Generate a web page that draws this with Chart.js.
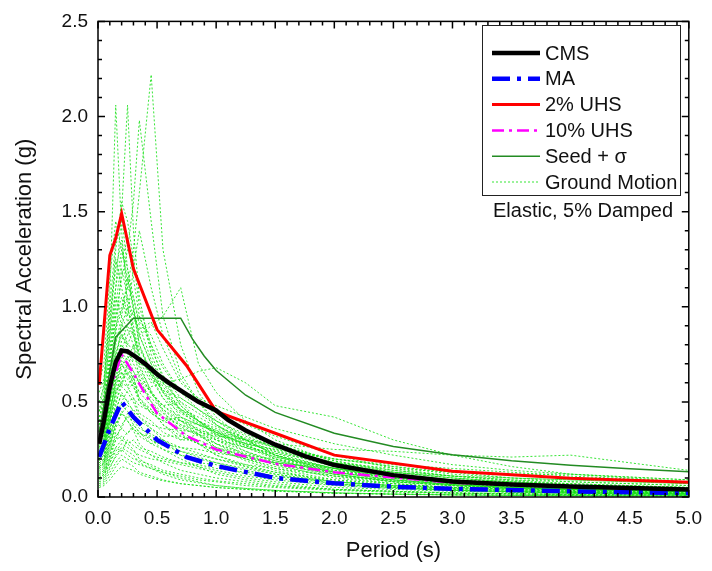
<!DOCTYPE html>
<html>
<head>
<meta charset="utf-8">
<script src="https://cdn.jsdelivr.net/npm/chart.js@4.4.0/dist/chart.umd.min.js"></script>
<style>
html, body { margin: 0; padding: 0; background: #fff; }
</style>
</head>
<body>
<canvas id="canvas" width="712" height="571"></canvas>
<script>
// CMS
var cmsT = [0.01, 0.05, 0.1, 0.15, 0.2, 0.25, 0.3, 0.4, 0.5, 0.6, 0.75, 0.85, 1.0, 1.1, 1.25, 1.5, 1.75, 2.0, 2.5, 3.0, 3.5, 4.0, 4.5, 5.0];
var cmsSa = [0.28, 0.40, 0.58, 0.71, 0.77, 0.765, 0.745, 0.70, 0.645, 0.60, 0.54, 0.50, 0.455, 0.405, 0.35, 0.275, 0.215, 0.168, 0.115, 0.082, 0.066, 0.055, 0.047, 0.04];

// MA
var maT = [0.01, 0.1, 0.2, 0.3, 0.5, 0.75, 1.0, 1.5, 2.0, 2.5, 3.0, 4.0, 5.0];
var maSa = [0.21, 0.36, 0.50, 0.42, 0.30, 0.21, 0.163, 0.10, 0.072, 0.054, 0.043, 0.03, 0.021];

// 2% UHS
var uhs2T = [0.01, 0.1, 0.15, 0.2, 0.3, 0.5, 0.75, 1.0, 1.5, 2.0, 3.0, 4.0, 5.0];
var uhs2Sa = [0.59, 1.27, 1.36, 1.49, 1.20, 0.88, 0.69, 0.45, 0.335, 0.22, 0.135, 0.098, 0.078];

// 10% UHS
var uhs10T = [0.01, 0.1, 0.2, 0.3, 0.4, 0.5, 0.75, 1.0, 1.5, 2.0, 3.0, 4.0, 5.0];
var uhs10Sa = [0.28, 0.56, 0.75, 0.65, 0.54, 0.44, 0.32, 0.25, 0.175, 0.13, 0.075, 0.052, 0.038];

// Seed + sigma
var seedT = [0.01, 0.15, 0.3, 0.7, 0.8, 0.9, 1.0, 1.25, 1.5, 2.0, 2.5, 3.0, 3.5, 4.0, 4.5, 5.0];
var seedSa = [0.34, 0.84, 0.94, 0.94, 0.83, 0.74, 0.665, 0.535, 0.445, 0.335, 0.265, 0.222, 0.19, 0.167, 0.148, 0.133];

// ground motions, one row per record
var gmT = [0.01, 0.05, 0.1, 0.15, 0.2, 0.25, 0.3, 0.35, 0.45, 0.55, 0.7, 0.85, 1.0, 1.25, 1.5, 2.0, 2.5, 3.0, 3.5, 4.0, 5.0];
var gmSa = [
  [0.45, 0.60, 0.95, 1.20, 1.35, 1.10, 1.30, 1.60, 2.22, 1.30, 0.80, 0.55, 0.42, 0.30, 0.22, 0.12, 0.08, 0.06, 0.045, 0.035, 0.025],
  [0.40, 0.55, 1.05, 2.06, 1.40, 1.00, 0.85, 0.70, 0.55, 0.45, 0.35, 0.28, 0.22, 0.16, 0.12, 0.07, 0.05, 0.035, 0.025, 0.02, 0.015],
  [0.42, 0.50, 0.85, 1.10, 1.50, 2.06, 1.40, 1.05, 0.75, 0.60, 0.45, 0.38, 0.30, 0.22, 0.17, 0.10, 0.07, 0.05, 0.04, 0.03, 0.02],
  [0.38, 0.45, 0.70, 0.95, 1.15, 1.30, 1.55, 1.98, 1.45, 0.95, 0.65, 0.50, 0.38, 0.28, 0.20, 0.12, 0.08, 0.06, 0.045, 0.035, 0.025],
  [0.30, 0.35, 0.55, 0.75, 0.85, 0.80, 0.78, 0.85, 0.90, 0.95, 1.10, 0.70, 0.55, 0.40, 0.30, 0.18, 0.12, 0.09, 0.07, 0.05, 0.04],
  [0.25, 0.28, 0.45, 0.60, 0.70, 0.65, 0.60, 0.55, 0.58, 0.60, 0.62, 0.66, 0.68, 0.60, 0.48, 0.42, 0.30, 0.22, 0.16, 0.12, 0.08],
  [0.22, 0.25, 0.40, 0.55, 0.60, 0.58, 0.52, 0.48, 0.45, 0.42, 0.40, 0.38, 0.35, 0.30, 0.28, 0.25, 0.24, 0.22, 0.21, 0.22, 0.14],
  [0.10, 0.12, 0.20, 0.30, 0.32, 0.28, 0.25, 0.20, 0.16, 0.13, 0.10, 0.08, 0.06, 0.045, 0.035, 0.02, 0.015, 0.012, 0.01, 0.008, 0.006],
  [0.15, 0.18, 0.30, 0.45, 0.55, 0.50, 0.45, 0.38, 0.30, 0.25, 0.20, 0.16, 0.12, 0.09, 0.07, 0.04, 0.03, 0.02, 0.016, 0.012, 0.009],
  [0.50, 0.58, 0.90, 1.30, 1.55, 1.45, 1.25, 1.00, 0.80, 0.62, 0.48, 0.40, 0.32, 0.24, 0.18, 0.11, 0.07, 0.05, 0.04, 0.03, 0.02],
  [0.35, 0.40, 0.65, 0.90, 1.00, 1.10, 1.05, 0.90, 0.72, 0.60, 0.50, 0.44, 0.38, 0.30, 0.24, 0.16, 0.11, 0.08, 0.06, 0.05, 0.035],
  [0.20, 0.22, 0.35, 0.48, 0.62, 0.70, 0.75, 0.72, 0.65, 0.55, 0.45, 0.40, 0.34, 0.27, 0.22, 0.15, 0.10, 0.07, 0.055, 0.04, 0.03],
  [0.28, 0.33, 0.55, 0.80, 0.95, 0.88, 0.80, 0.62, 0.50, 0.42, 0.33, 0.28, 0.22, 0.17, 0.13, 0.08, 0.055, 0.04, 0.03, 0.024, 0.018],
  [0.18, 0.20, 0.32, 0.42, 0.50, 0.56, 0.60, 0.62, 0.55, 0.48, 0.40, 0.35, 0.30, 0.24, 0.19, 0.13, 0.09, 0.065, 0.05, 0.04, 0.03],
  [0.60, 0.70, 1.15, 1.45, 1.30, 1.15, 1.00, 0.85, 0.70, 0.55, 0.42, 0.35, 0.28, 0.20, 0.15, 0.09, 0.06, 0.045, 0.035, 0.028, 0.02],
  [0.12, 0.14, 0.22, 0.30, 0.38, 0.42, 0.40, 0.36, 0.33, 0.30, 0.26, 0.23, 0.20, 0.16, 0.13, 0.09, 0.07, 0.05, 0.04, 0.032, 0.025],
  [0.32, 0.36, 0.60, 0.85, 1.20, 1.05, 0.90, 0.75, 0.62, 0.52, 0.44, 0.39, 0.33, 0.27, 0.22, 0.15, 0.11, 0.08, 0.06, 0.05, 0.04],
  [0.08, 0.09, 0.15, 0.22, 0.26, 0.24, 0.22, 0.18, 0.15, 0.12, 0.09, 0.075, 0.06, 0.045, 0.035, 0.022, 0.015, 0.011, 0.008, 0.007, 0.005],
  [0.26, 0.30, 0.48, 0.70, 0.78, 0.85, 0.92, 0.95, 0.80, 0.68, 0.55, 0.50, 0.45, 0.38, 0.32, 0.22, 0.15, 0.11, 0.085, 0.065, 0.05],
  [0.45, 0.52, 0.85, 1.25, 1.10, 0.95, 1.20, 1.40, 1.10, 0.85, 0.62, 0.50, 0.40, 0.30, 0.22, 0.13, 0.09, 0.065, 0.05, 0.04, 0.03],
  [0.16, 0.18, 0.28, 0.36, 0.44, 0.48, 0.46, 0.42, 0.38, 0.36, 0.35, 0.34, 0.32, 0.30, 0.27, 0.20, 0.16, 0.13, 0.10, 0.08, 0.06],
  [0.22, 0.26, 0.42, 0.62, 0.72, 0.68, 0.62, 0.55, 0.48, 0.42, 0.38, 0.35, 0.33, 0.28, 0.25, 0.20, 0.17, 0.15, 0.13, 0.11, 0.08],
  [0.38, 0.44, 0.72, 1.00, 1.25, 1.35, 1.15, 0.95, 0.78, 0.64, 0.52, 0.46, 0.40, 0.32, 0.26, 0.17, 0.12, 0.09, 0.07, 0.055, 0.04],
  [0.14, 0.16, 0.25, 0.38, 0.45, 0.40, 0.35, 0.28, 0.22, 0.18, 0.14, 0.12, 0.10, 0.08, 0.06, 0.04, 0.03, 0.022, 0.017, 0.013, 0.01],
  [0.30, 0.34, 0.52, 0.70, 0.82, 0.90, 0.85, 0.78, 0.66, 0.56, 0.46, 0.42, 0.37, 0.31, 0.26, 0.18, 0.13, 0.10, 0.08, 0.06, 0.045],
  [0.20, 0.24, 0.38, 0.55, 0.65, 0.62, 0.58, 0.50, 0.44, 0.40, 0.36, 0.33, 0.30, 0.26, 0.23, 0.18, 0.15, 0.13, 0.12, 0.12, 0.09],
  [0.55, 0.62, 1.00, 1.35, 1.48, 1.20, 1.00, 0.80, 0.64, 0.52, 0.40, 0.33, 0.26, 0.19, 0.14, 0.08, 0.055, 0.04, 0.03, 0.024, 0.018],
  [0.10, 0.11, 0.18, 0.26, 0.30, 0.34, 0.36, 0.32, 0.28, 0.25, 0.22, 0.20, 0.18, 0.15, 0.12, 0.08, 0.06, 0.045, 0.035, 0.028, 0.02],
  [0.34, 0.38, 0.62, 0.88, 0.98, 1.05, 0.95, 0.88, 0.92, 0.78, 0.60, 0.52, 0.44, 0.35, 0.28, 0.19, 0.13, 0.10, 0.075, 0.06, 0.045],
  [0.24, 0.27, 0.44, 0.64, 0.74, 0.70, 0.66, 0.60, 0.52, 0.46, 0.40, 0.36, 0.31, 0.26, 0.21, 0.15, 0.11, 0.085, 0.065, 0.05, 0.04],
  [0.42, 0.48, 0.78, 1.10, 1.30, 1.20, 1.05, 0.92, 0.85, 0.70, 0.55, 0.46, 0.38, 0.29, 0.23, 0.15, 0.10, 0.075, 0.06, 0.045, 0.035],
  [0.06, 0.07, 0.11, 0.16, 0.20, 0.18, 0.16, 0.13, 0.11, 0.09, 0.07, 0.06, 0.05, 0.04, 0.03, 0.02, 0.014, 0.01, 0.008, 0.006, 0.005],
  [0.28, 0.32, 0.50, 0.72, 0.80, 0.75, 0.72, 0.70, 0.68, 0.62, 0.56, 0.52, 0.48, 0.42, 0.36, 0.28, 0.22, 0.17, 0.14, 0.12, 0.09],
  [0.18, 0.20, 0.34, 0.50, 0.58, 0.55, 0.50, 0.42, 0.36, 0.30, 0.24, 0.21, 0.18, 0.14, 0.11, 0.07, 0.05, 0.035, 0.027, 0.02, 0.015],
  [0.20, 0.24, 0.40, 0.52, 0.66, 0.58, 0.64, 0.50, 0.46, 0.38, 0.30, 0.33, 0.26, 0.21, 0.17, 0.12, 0.08, 0.06, 0.05, 0.04, 0.03],
  [0.15, 0.17, 0.26, 0.40, 0.36, 0.44, 0.38, 0.34, 0.28, 0.30, 0.22, 0.18, 0.17, 0.12, 0.10, 0.065, 0.05, 0.035, 0.03, 0.025, 0.018],
  [0.32, 0.38, 0.58, 0.70, 0.92, 0.80, 0.88, 0.72, 0.60, 0.64, 0.48, 0.40, 0.36, 0.30, 0.22, 0.14, 0.10, 0.075, 0.06, 0.05, 0.035],
  [0.11, 0.13, 0.20, 0.26, 0.24, 0.30, 0.27, 0.25, 0.22, 0.20, 0.18, 0.17, 0.15, 0.13, 0.11, 0.08, 0.06, 0.05, 0.045, 0.04, 0.03],
  [0.26, 0.30, 0.50, 0.64, 0.58, 0.70, 0.62, 0.66, 0.54, 0.48, 0.50, 0.40, 0.34, 0.28, 0.25, 0.17, 0.13, 0.10, 0.08, 0.06, 0.05],
  [0.09, 0.10, 0.16, 0.21, 0.25, 0.22, 0.20, 0.19, 0.17, 0.14, 0.12, 0.10, 0.085, 0.07, 0.055, 0.04, 0.03, 0.022, 0.018, 0.015, 0.011],
  [0.36, 0.42, 0.70, 0.95, 1.05, 0.92, 0.98, 0.80, 0.66, 0.55, 0.46, 0.40, 0.35, 0.27, 0.21, 0.14, 0.10, 0.07, 0.055, 0.045, 0.03],
  [0.19, 0.22, 0.36, 0.46, 0.54, 0.50, 0.52, 0.44, 0.40, 0.34, 0.30, 0.30, 0.26, 0.22, 0.20, 0.15, 0.12, 0.09, 0.07, 0.06, 0.045],
  [0.24, 0.28, 0.46, 0.58, 0.68, 0.74, 0.66, 0.60, 0.50, 0.44, 0.37, 0.32, 0.28, 0.22, 0.18, 0.12, 0.085, 0.065, 0.05, 0.04, 0.03],
  [0.13, 0.15, 0.24, 0.32, 0.36, 0.33, 0.38, 0.34, 0.30, 0.27, 0.24, 0.22, 0.20, 0.17, 0.15, 0.11, 0.09, 0.07, 0.06, 0.05, 0.04],
  [0.29, 0.34, 0.55, 0.76, 0.86, 0.78, 0.70, 0.64, 0.55, 0.48, 0.42, 0.38, 0.34, 0.28, 0.24, 0.18, 0.14, 0.11, 0.09, 0.08, 0.06],
  [0.07, 0.08, 0.13, 0.18, 0.22, 0.20, 0.18, 0.17, 0.15, 0.13, 0.11, 0.09, 0.08, 0.06, 0.05, 0.035, 0.025, 0.02, 0.016, 0.013, 0.01],
  [0.40, 0.46, 0.75, 1.05, 0.95, 1.15, 0.98, 0.85, 0.70, 0.58, 0.46, 0.40, 0.33, 0.26, 0.20, 0.13, 0.09, 0.065, 0.05, 0.04, 0.03],
  [0.17, 0.19, 0.30, 0.42, 0.48, 0.45, 0.42, 0.40, 0.36, 0.32, 0.32, 0.28, 0.24, 0.20, 0.18, 0.14, 0.11, 0.09, 0.08, 0.07, 0.05],
  [0.21, 0.25, 0.40, 0.56, 0.60, 0.66, 0.60, 0.52, 0.46, 0.38, 0.32, 0.28, 0.25, 0.20, 0.16, 0.11, 0.08, 0.06, 0.045, 0.035, 0.025],
  [0.12, 0.14, 0.22, 0.34, 0.30, 0.28, 0.30, 0.26, 0.24, 0.21, 0.18, 0.16, 0.14, 0.11, 0.09, 0.06, 0.045, 0.035, 0.028, 0.022, 0.016],
  [0.33, 0.38, 0.60, 0.82, 0.90, 1.00, 0.86, 0.74, 0.64, 0.56, 0.52, 0.46, 0.40, 0.33, 0.27, 0.19, 0.14, 0.11, 0.09, 0.07, 0.05],
  [0.05, 0.06, 0.09, 0.13, 0.16, 0.15, 0.14, 0.12, 0.10, 0.085, 0.07, 0.06, 0.05, 0.04, 0.032, 0.022, 0.016, 0.012, 0.01, 0.008, 0.006],
  [0.27, 0.31, 0.50, 0.66, 0.76, 0.72, 0.80, 0.68, 0.56, 0.46, 0.38, 0.33, 0.28, 0.23, 0.19, 0.13, 0.10, 0.08, 0.065, 0.055, 0.04],
  [0.16, 0.18, 0.28, 0.38, 0.44, 0.40, 0.36, 0.33, 0.32, 0.28, 0.26, 0.25, 0.23, 0.21, 0.18, 0.15, 0.13, 0.11, 0.10, 0.09, 0.07],
  [0.23, 0.27, 0.44, 0.60, 0.70, 0.64, 0.58, 0.52, 0.44, 0.40, 0.42, 0.38, 0.34, 0.30, 0.26, 0.20, 0.16, 0.12, 0.10, 0.09, 0.07],
  [0.10, 0.12, 0.18, 0.24, 0.28, 0.26, 0.24, 0.22, 0.20, 0.19, 0.17, 0.15, 0.13, 0.10, 0.08, 0.05, 0.04, 0.03, 0.025, 0.02, 0.015]
];

var xTicks = [0, 0.5, 1, 1.5, 2, 2.5, 3, 3.5, 4, 4.5, 5];
var FONT = "'Liberation Sans', Arial, sans-serif";

function pts(t, sa) {
  return t.map(function (v, i) { return { x: v, y: sa[i] }; });
}

var datasets = [
  { label: 'CMS', data: pts(cmsT, cmsSa), borderColor: '#000000', borderWidth: 4.5 },
  { label: 'MA', data: pts(maT, maSa), borderColor: '#0000ff', borderWidth: 4.5, borderDash: [18, 7, 4, 7] },
  { label: '2% UHS', data: pts(uhs2T, uhs2Sa), borderColor: '#ff0000', borderWidth: 3 },
  { label: '10% UHS', data: pts(uhs10T, uhs10Sa), borderColor: '#ff00ff', borderWidth: 2.5, borderDash: [12, 5, 3, 5] },
  { label: 'Seed + \u03c3', data: pts(seedT, seedSa), borderColor: '#238b23', borderWidth: 1.5 }
];
gmSa.forEach(function (rec) {
  datasets.push({ label: 'Ground Motion', data: pts(gmT, rec), borderColor: 'rgba(20,225,20,0.85)', borderWidth: 1, borderDash: [2, 2] });
});

// box round the plot, inward major/minor ticks on all four sides
var frameTicks = {
  id: 'frameTicks',
  afterDraw: function (chart) {
    var ctx = chart.ctx, a = chart.chartArea;
    var xs = chart.scales.x, ys = chart.scales.y;
    ctx.save();
    ctx.strokeStyle = '#000';
    ctx.lineWidth = 1.5;
    ctx.strokeRect(a.left, a.top, a.right - a.left, a.bottom - a.top);
    ctx.beginPath();
    for (var i = 0; i <= 50; i++) {
      var len = i % 5 === 0 ? 7 : 4;
      var px = xs.getPixelForValue(i / 10);
      ctx.moveTo(px, a.bottom); ctx.lineTo(px, a.bottom - len);
      ctx.moveTo(px, a.top); ctx.lineTo(px, a.top + len);
    }
    for (var j = 0; j <= 25; j++) {
      var l2 = j % 5 === 0 ? 7 : 4;
      var py = ys.getPixelForValue(j / 10);
      ctx.moveTo(a.left, py); ctx.lineTo(a.left + l2, py);
      ctx.moveTo(a.right, py); ctx.lineTo(a.right - l2, py);
    }
    ctx.stroke();
    ctx.restore();
  }
};

var legendBox = {
  id: 'legendBox',
  afterDraw: function (chart) {
    var ctx = chart.ctx;
    var seen = {}, items = [];
    chart.data.datasets.forEach(function (ds) {
      if (!seen[ds.label]) { seen[ds.label] = true; items.push(ds); }
    });
    ctx.save();
    ctx.fillStyle = '#fff';
    ctx.fillRect(482, 25, 198, 170);
    ctx.strokeStyle = '#222';
    ctx.lineWidth = 1;
    ctx.strokeRect(482.5, 25.5, 198, 170);
    ctx.font = '20px ' + FONT;
    ctx.textBaseline = 'middle';
    items.forEach(function (ds, i) {
      var y = 53 + i * 25.8;
      ctx.beginPath();
      ctx.strokeStyle = ds.borderColor;
      ctx.lineWidth = ds.borderWidth;
      ctx.setLineDash(ds.borderDash || []);
      ctx.moveTo(492, y); ctx.lineTo(540, y);
      ctx.stroke();
      ctx.setLineDash([]);
      ctx.fillStyle = '#111';
      ctx.fillText(ds.label, 545, y + 1);
    });
    ctx.fillText('Elastic, 5% Damped', 493, 211);
    ctx.restore();
  }
};

var ctx = document.getElementById('canvas').getContext('2d');
var chart = new Chart(ctx, {
  type: 'line',
  data: { datasets: datasets },
  options: {
    responsive: false,
    animation: false,
    devicePixelRatio: 1,
    layout: { padding: { top: 18, right: 15, left: 0, bottom: 0 } },
    elements: { point: { radius: 0 }, line: { tension: 0, borderCapStyle: 'butt' } },
    plugins: { legend: { display: false }, tooltip: { enabled: false } },
    scales: {
      x: {
        type: 'linear', min: 0, max: 5,
        grid: { display: false, drawTicks: false },
        border: { display: false },
        afterBuildTicks: function (s) { s.ticks = xTicks.map(function (v) { return { value: v }; }); },
        ticks: { padding: 10, color: '#111', font: { family: FONT, size: 19 }, maxRotation: 0, autoSkip: false,
          callback: function (v) { return Number(v).toFixed(1); } },
        title: { display: true, text: 'Period (s)', color: '#111', font: { family: FONT, size: 22 }, padding: { top: 0, bottom: 7 } },
        afterFit: function (s) { s.height = 74; }
      },
      y: {
        min: 0, max: 2.5,
        grid: { display: false, drawTicks: false },
        border: { display: false },
        ticks: { stepSize: 0.5, padding: 10, color: '#111', font: { family: FONT, size: 19 },
          callback: function (v) { return Number(v).toFixed(1); } },
        title: { display: true, text: 'Spectral Acceleration (g)', color: '#111', font: { family: FONT, size: 22 }, padding: { top: 12, bottom: 0 } },
        afterFit: function (s) { s.width = 98; }
      }
    }
  },
  plugins: [frameTicks, legendBox]
});
</script>
</body>
</html>
